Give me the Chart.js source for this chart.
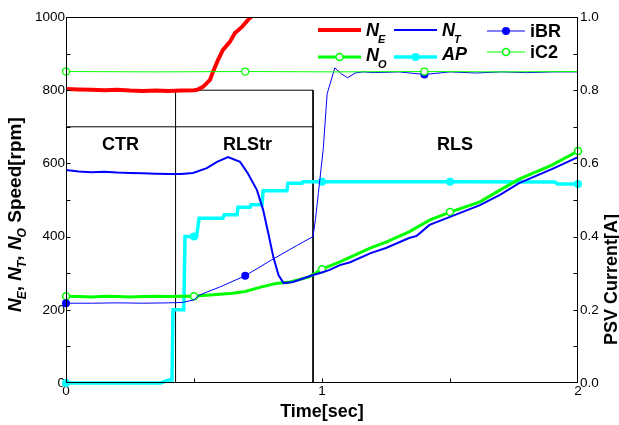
<!DOCTYPE html>
<html>
<head>
<meta charset="utf-8">
<script src="https://cdn.jsdelivr.net/npm/chart.js@4.4.1/dist/chart.umd.min.js"></script>
<style>
  html, body { margin: 0; padding: 0; background: #fff; }
</style>
</head>
<body>
<canvas id="c" width="619" height="425"></canvas>
<script>
// ===== DATA =====
// speeds in rpm (left axis), time in sec
const neT = [0, 0.05, 0.1, 0.15, 0.2, 0.25, 0.3, 0.35, 0.4, 0.45, 0.5, 0.512, 0.535, 0.5625, 0.574, 0.594, 0.613, 0.64, 0.66, 0.6875, 0.711, 0.73, 0.76];
const neV = [803, 802, 801, 800, 801, 799, 798, 799, 798, 799, 800, 801, 809, 828, 850, 883, 910, 932, 956, 973, 992, 1005, 1040];

const ntT = [0, 0.05, 0.1, 0.15, 0.2, 0.25, 0.3, 0.35, 0.4, 0.45, 0.496, 0.55, 0.59, 0.633, 0.68, 0.71, 0.746, 0.77, 0.79, 0.81, 0.83, 0.85, 0.887, 0.965, 0.99, 1.03, 1.07, 1.11, 1.19, 1.25, 1.34, 1.37, 1.42, 1.5, 1.617, 1.695, 1.77, 1.9, 2.0];
const ntV = [582, 578, 576, 577, 575, 574, 573, 572, 571, 571, 574, 587, 604, 617, 604, 573, 527, 473, 410, 344, 295, 273, 276, 295, 300, 309, 322, 330, 355, 369, 396, 402, 432, 454, 486, 514, 546, 585, 617];

const noT = [0, 0.05, 0.1, 0.15, 0.2, 0.25, 0.3, 0.35, 0.4, 0.45, 0.5, 0.55, 0.65, 0.7, 0.76, 0.82, 0.875, 0.95, 1.0, 1.07, 1.19, 1.25, 1.34, 1.42, 1.5, 1.617, 1.695, 1.77, 1.9, 2.0];
const noV = [237, 236, 235, 237, 236, 235, 236, 237, 236, 237, 237, 240, 245, 250, 262, 272, 276, 290, 311, 331, 369, 385, 413, 445, 467, 495, 527, 557, 596, 634];
const noMarks = [0, 0.5, 1.0, 1.5, 2.0];

// currents in A (right axis)
const apT = [0, 0.37, 0.40, 0.414, 0.418, 0.46, 0.465, 0.5, 0.51, 0.52, 0.613, 0.618, 0.668, 0.672, 0.719, 0.723, 0.766, 0.77, 0.863, 0.867, 0.922, 0.926, 1.0, 1.5, 1.91, 1.92, 2.0];
const apV = [0, 0, 0.008, 0.008, 0.2, 0.2, 0.40, 0.40, 0.40, 0.45, 0.45, 0.46, 0.46, 0.48, 0.48, 0.487, 0.487, 0.525, 0.525, 0.546, 0.546, 0.55, 0.55, 0.55, 0.549, 0.544, 0.544];
const apMarks = [0, 0.5, 1.0, 1.5, 2.0];

const ibrT = [0, 0.1, 0.2, 0.3, 0.4, 0.453, 0.5, 0.52, 0.6, 0.7, 0.8, 0.9, 0.965, 0.975, 0.986, 1.005, 1.02, 1.05, 1.075, 1.1, 1.13, 1.16, 1.2, 1.3, 1.4, 1.5, 1.6, 1.7, 1.8, 1.9, 2.0];
const ibrV = [0.218, 0.218, 0.219, 0.218, 0.219, 0.22, 0.227, 0.24, 0.262, 0.293, 0.335, 0.375, 0.40, 0.45, 0.52, 0.64, 0.79, 0.861, 0.845, 0.834, 0.847, 0.85, 0.848, 0.85, 0.843, 0.85, 0.847, 0.85, 0.848, 0.85, 0.85];
const ic2T = [0, 0.35, 0.7, 1.05, 1.4, 1.7, 2.0];
const ic2V = [0.851, 0.850, 0.851, 0.850, 0.851, 0.850, 0.851];
const currentMarks = [0, 0.7, 1.4];

// operating phase frame (rpm / sec), null = break
const phaseT = [0, 0.965, null, 0.428, 0.428, 0.965, 0.965];
const phaseV = [700, 700, null, 0, 800, 800, 0];
const phaseNames = ["CTR", "RLStr", "RLS"];
const phaseLabelT = [0.213, 0.709, 1.52];
const phaseLabelV = 637;

// axis ticks
const speedMinor = [100, 200, 300, 400, 500, 600, 700, 800, 900];
const currentMinor = [0.1, 0.2, 0.3, 0.4, 0.5, 0.6, 0.7, 0.8, 0.9];
const timeMinor = [0.5, 1, 1.5];

const FONT = '"Liberation Sans", Arial, sans-serif';

function pts(t, v) {
    return t.map((x, i) => ({ x: x === null ? 0 : x, y: v[i] }));
}
function marks(times, r) {
    return (ctx) => (ctx.raw && times.includes(ctx.raw.x)) ? r : 0;
}
const clipBox = { left: 6, top: 0, right: 6, bottom: 6 };

// ===== PLUGIN: frame, inward ticks, titles, phase text, legend =====
const decor = {
    id: "decor",
    afterDraw(chart) {
        const { ctx, chartArea: a, scales } = chart;
        const x = scales.x, y = scales.y, y1 = scales.y1;
        const L = a.left + 0.5, R = a.right - 0.5, T = a.top + 0.5, B = a.bottom - 0.5;
        ctx.save();
        ctx.strokeStyle = "#000";
        ctx.lineWidth = 1;
        ctx.strokeRect(L, T, R - L, B - T);
        ctx.beginPath();
        speedMinor.forEach(v => {
            const p = Math.round(y.getPixelForValue(v)) + 0.5;
            ctx.moveTo(L, p); ctx.lineTo(L + 4, p);
        });
        currentMinor.forEach(v => {
            const p = Math.round(y1.getPixelForValue(v)) + 0.5;
            ctx.moveTo(R, p); ctx.lineTo(R - 4, p);
        });
        timeMinor.forEach(v => {
            const p = Math.round(x.getPixelForValue(v)) + 0.5;
            ctx.moveTo(p, B); ctx.lineTo(p, B - 4);
        });
        ctx.stroke();

        ctx.fillStyle = "#000";
        // phase names
        ctx.font = "bold 18px " + FONT;
        ctx.textAlign = "center";
        ctx.textBaseline = "alphabetic";
        phaseNames.forEach((n, i) => {
            ctx.fillText(n, x.getPixelForValue(phaseLabelT[i]), y.getPixelForValue(phaseLabelV));
        });

        // x title
        ctx.fillText("Time[sec]", x.getPixelForValue(1), 417);

        // left title with subscripts
        const big = "italic bold 19px " + FONT, sub = "italic bold 12px " + FONT, plain = "bold 19px " + FONT;
        const segs = [
            ["N", big, 0], ["E", sub, 5], [", ", plain, 0],
            ["N", big, 0], ["T", sub, 5], [", ", plain, 0],
            ["N", big, 0], ["O", sub, 5], [" Speed[rpm]", plain, 0]
        ];
        ctx.save();
        ctx.translate(21, 312);
        ctx.rotate(-Math.PI / 2);
        ctx.textAlign = "left";
        let cx = 0;
        segs.forEach(([s, f, dy]) => {
            ctx.font = f;
            ctx.fillText(s, cx, dy);
            cx += ctx.measureText(s).width - (f === big ? 1 : 0);
        });
        ctx.restore();

        // right title
        ctx.save();
        ctx.translate(617, 345);
        ctx.rotate(-Math.PI / 2);
        ctx.textAlign = "left";
        ctx.font = "bold 18px " + FONT;
        ctx.fillText("PSV Current[A]", 0, 0);
        ctx.restore();

        // legend
        const lsub = "italic bold 11px " + FONT;
        const items = [
            { main: "N", sub: "E", col: "#ff0000", w: 4, x0: 318, x1: 361, ly: 30, tx: 366, ty: 36 },
            { main: "N", sub: "T", col: "#0000ff", w: 2, x0: 394, x1: 437, ly: 30, tx: 442, ty: 36 },
            { main: "iBR", col: "#0000ff", w: 1, x0: 487, x1: 525, ly: 31, tx: 530, ty: 37, mk: "fill" },
            { main: "N", sub: "O", col: "#00ff00", w: 3, x0: 318, x1: 361, ly: 57, tx: 366, ty: 61, mk: "open" },
            { main: "AP", col: "#00ffff", w: 3.5, x0: 394, x1: 437, ly: 57, tx: 442, ty: 60, mk: "fill" },
            { main: "iC2", col: "#00ff00", w: 1, x0: 487, x1: 525, ly: 52, tx: 530, ty: 58, mk: "open" }
        ];
        items.forEach(it => {
            ctx.strokeStyle = it.col;
            ctx.lineWidth = it.w;
            ctx.beginPath();
            ctx.moveTo(it.x0, it.ly); ctx.lineTo(it.x1, it.ly);
            ctx.stroke();
            if (it.mk) {
                const mx = (it.x0 + it.x1) / 2;
                ctx.beginPath();
                ctx.arc(mx, it.ly, it.mk === "fill" ? 4 : 3.5, 0, Math.PI * 2);
                if (it.mk === "fill") { ctx.fillStyle = it.col; ctx.fill(); }
                else { ctx.fillStyle = "#fff"; ctx.fill(); ctx.lineWidth = 1.5; ctx.stroke(); }
            }
            ctx.fillStyle = "#000";
            ctx.textAlign = "left";
            const isItalic = it.main !== "iBR" && it.main !== "iC2";
            ctx.font = (isItalic ? "italic " : "") + "bold 18px " + FONT;
            ctx.fillText(it.main, it.tx, it.ty);
            if (it.sub) {
                const w = ctx.measureText(it.main).width;
                ctx.font = lsub;
                ctx.fillText(it.sub, it.tx + w - 1, it.ty + 7);
            }
        });
        ctx.restore();
    }
};

// ===== CHART =====
new Chart(document.getElementById("c"), {
    type: "line",
    data: {
        datasets: [
            { label: "phase", data: pts(phaseT, phaseV), yAxisID: "y", borderColor: "#000", borderWidth: 1, pointRadius: 0, spanGaps: false, order: 7 },
            { label: "NE", data: pts(neT, neV), yAxisID: "y", borderColor: "#ff0000", borderWidth: 4, pointRadius: 0, clip: clipBox, order: 6 },
            { label: "NT", data: pts(ntT, ntV), yAxisID: "y", borderColor: "#0000ff", borderWidth: 2, pointRadius: 0, clip: clipBox, order: 3 },
            { label: "NO", data: pts(noT, noV), yAxisID: "y", borderColor: "#00ff00", borderWidth: 3, clip: clipBox, order: 4,
              pointRadius: marks(noMarks, 3.5), pointBackgroundColor: "#fff", pointBorderColor: "#00ff00", pointBorderWidth: 1.5 },
            { label: "AP", data: pts(apT, apV), yAxisID: "y1", borderColor: "#00ffff", borderWidth: 3.5, clip: clipBox, order: 5,
              pointRadius: marks(apMarks, 4), pointBackgroundColor: "#00ffff", pointBorderWidth: 0 },
            { label: "iBR", data: pts(ibrT, ibrV), yAxisID: "y1", borderColor: "#0000ff", borderWidth: 1, clip: clipBox, order: 2,
              pointRadius: marks(currentMarks, 4), pointBackgroundColor: "#0000ff", pointBorderWidth: 0 },
            { label: "iC2", data: pts(ic2T, ic2V), yAxisID: "y1", borderColor: "#00ff00", borderWidth: 1, clip: clipBox, order: 1,
              pointRadius: marks(currentMarks, 3.5), pointBackgroundColor: "#fff", pointBorderColor: "#00ff00", pointBorderWidth: 1.2 }
        ]
    },
    options: {
        responsive: false,
        animation: false,
        devicePixelRatio: 1,
        layout: { padding: { top: 17, left: 0, right: 0, bottom: 0 } },
        elements: { line: { tension: 0 } },
        plugins: { legend: { display: false }, tooltip: { enabled: false } },
        scales: {
            x: {
                type: "linear", min: 0, max: 2,
                grid: { display: false, drawTicks: false },
                border: { display: false },
                ticks: { stepSize: 1, padding: 0, color: "#000", font: { family: FONT, size: 13.5 },
                         callback: (v) => String(v) },
                afterFit: (s) => { s.height = 42; }
            },
            y: {
                position: "left", min: 0, max: 1000,
                grid: { display: false, drawTicks: false },
                border: { display: false },
                ticks: { stepSize: 200, padding: 1, color: "#000", autoSkip: false, font: { family: FONT, size: 13.5 },
                         callback: (v) => String(v) },
                afterFit: (s) => { s.width = 66; }
            },
            y1: {
                position: "right", min: 0, max: 1,
                grid: { display: false, drawTicks: false },
                border: { display: false },
                ticks: { stepSize: 0.2, padding: 2, color: "#000", autoSkip: false, font: { family: FONT, size: 13.5 },
                         callback: (v) => v.toFixed(1) },
                afterFit: (s) => { s.width = 41; }
            }
        }
    },
    plugins: [decor]
});
</script>
</body>
</html>
